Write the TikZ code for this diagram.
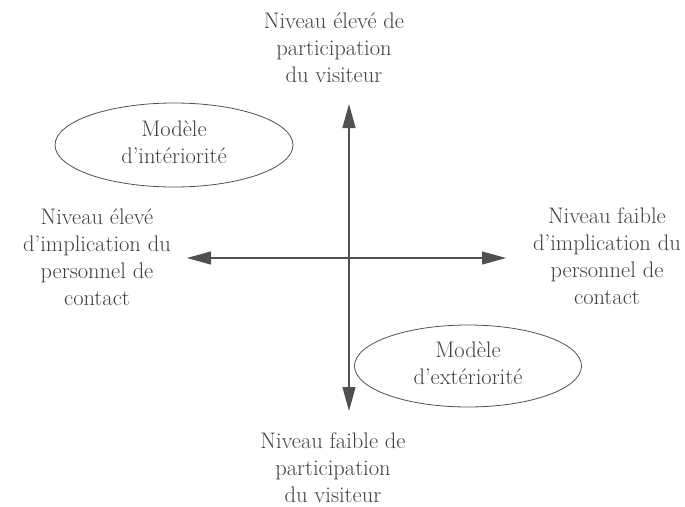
\documentclass[tikz,border=0pt]{standalone}
\usetikzlibrary{arrows.meta,shapes.geometric}
\definecolor{txt}{HTML}{404040}
\definecolor{ln}{HTML}{505050}
\begin{document}
\begin{tikzpicture}[x=1pt,y=-1pt,
  lbl/.style={align=center,text=txt,font=\fontsize{22.5}{27}\selectfont,inner sep=0pt},
  axis/.style={draw=ln,line width=1.1pt,{Triangle[length=24pt,width=13pt]}-{Triangle[length=24pt,width=13pt]}}]
\useasboundingbox (0,0) rectangle (685,506);
\node[lbl] (top) at (334,48) {Niveau élevé de\\participation\\du visiteur};
\node[lbl] (bot) at (333,468) {Niveau faible de\\participation\\du visiteur};
\node[lbl] (left) at (97,257) {Niveau élevé\\d'implication du\\personnel de\\contact};
\node[lbl] (right) at (607,256) {Niveau faible\\d'implication du\\personnel de\\contact};
\node[lbl] (e1t) at (174,142) {Modèle\\d'intériorité};
\node[draw=ln,line width=0.8pt,ellipse,minimum width=238pt,minimum height=84pt] (e1) at (174,145) {};
\node[lbl] (e2t) at (468,363) {Modèle\\d'extériorité};
\node[draw=ln,line width=0.8pt,ellipse,minimum width=227pt,minimum height=82pt] (e2) at (468,366) {};
\coordinate (vt) at (349,104);
\coordinate (vb) at (349,411);
\coordinate (hl) at (187,258);
\coordinate (hr) at (506,258);
\draw[axis] (vt) -- (vb);
\draw[axis] (hl) -- (hr);
\end{tikzpicture}
\end{document}
